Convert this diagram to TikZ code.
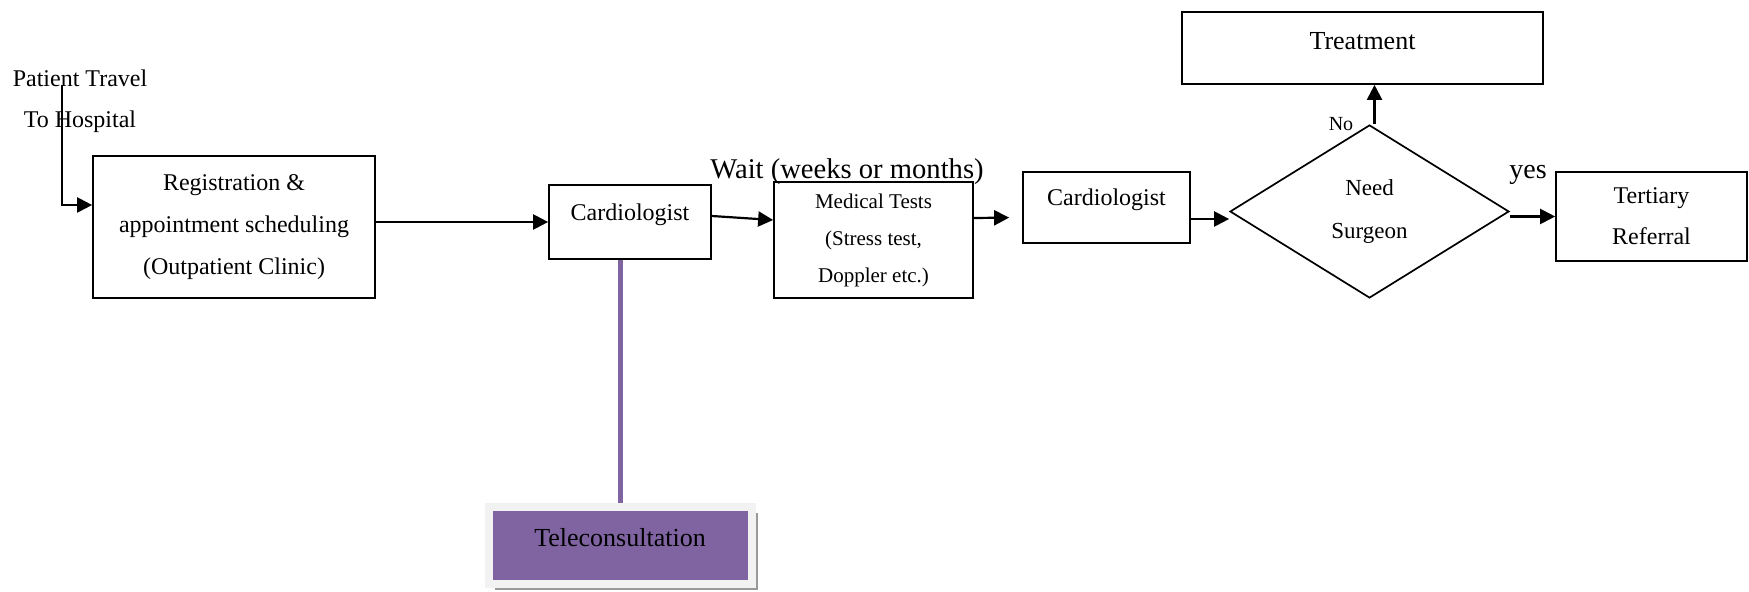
\documentclass[tikz,border=0pt]{standalone}
\usepackage{fontspec}
\setmainfont{Liberation Serif}
\usetikzlibrary{shapes.geometric,arrows.meta,shadows}
\definecolor{telepurple}{HTML}{8064A2}

\begin{document}
\begin{tikzpicture}[x=0.5pt,y=-0.5pt]
        \tikzset{BoxStyle/.style={draw, line width=0.85pt, align=center, inner sep=0pt},
                 EdgeStyle/.style={line width=1.1pt, -{Triangle[length=7.5pt,width=7.5pt]}}}
        \useasboundingbox (0,0) rectangle (1749,592);
        \node[align=center, font=\fontsize{12}{20.5}\selectfont] (travel) at (80,101.5) {Patient Travel\\To Hospital};
        \coordinate (start) at (62,85);
        \node[BoxStyle, minimum width=141pt, minimum height=71pt, font=\fontsize{12}{21}\selectfont] (reg) at (234,227)
                {Registration \&\\appointment scheduling\\(Outpatient Clinic)};
        \node[BoxStyle, minimum width=81pt, minimum height=37pt, text depth=10pt, font=\fontsize{12}{14}\selectfont] (card1) at (630,222) {Cardiologist};
        \node[BoxStyle, minimum width=99.5pt, minimum height=58pt, font=\fontsize{10.5}{18.5}\selectfont] (med) at (873.5,240)
                {Medical Tests\\(Stress test,\\Doppler etc.)};
        \node[font=\fontsize{14.3}{16}\selectfont] (wait) at (847,172) {Wait (weeks or months)};
        \node[BoxStyle, minimum width=83.5pt, minimum height=35.5pt, text depth=10.5pt, font=\fontsize{12}{14}\selectfont] (card2) at (1106.5,207.5) {Cardiologist};
        \node[BoxStyle, diamond, minimum width=139.5pt, minimum height=86.5pt, font=\fontsize{11.5}{21.5}\selectfont] (need) at (1369.5,211.5) {Need\\Surgeon};
        \node[BoxStyle, minimum width=180.5pt, minimum height=36pt, text depth=7pt, font=\fontsize{13}{15}\selectfont] (treat) at (1362.5,48) {Treatment};
        \node[BoxStyle, minimum width=95.5pt, minimum height=44.5pt, font=\fontsize{12}{20.5}\selectfont] (tert) at (1651.5,216.5) {Tertiary\\Referral};
        \node[font=\fontsize{10}{12}\selectfont] (no) at (1341,124) {No};
        \node[font=\fontsize{14}{16}\selectfont] (yes) at (1528,174.5) {yes};
        \node[fill=telepurple, draw=black!5, line width=4pt, minimum width=131.5pt, minimum height=38.5pt, text depth=8.5pt,
              drop shadow={shadow xshift=3.2pt, shadow yshift=-3.2pt, fill=black!40, opacity=1},
              font=\fontsize{13}{15}\selectfont] (tele) at (620,545.5) {Teleconsultation};
        % connectors
        \draw[EdgeStyle] (start) |- ([yshift=11pt]reg.west);
        \draw[EdgeStyle] (reg.east |- card1.west) -- (card1.west);
        \draw[EdgeStyle] ([yshift=3pt]card1.east) -- ([yshift=10pt]med.west);
        \draw[EdgeStyle, shorten >=6.5pt] ([yshift=11pt]med.east) -- ([yshift=-5pt]card2.west);
        \draw[EdgeStyle] ([yshift=-5.75pt]card2.east) -- ([yshift=-3.75pt]need.west);
        \draw[EdgeStyle] ([xshift=2.5pt]need.north) -- ([xshift=2.5pt]need.north |- treat.south);
        \draw[EdgeStyle] (need.east |- tert.west) -- (tert.west);
        \draw[telepurple, line width=2.5pt] (tele.north) -- (tele.north |- card1.south);
\end{tikzpicture}
\end{document}
